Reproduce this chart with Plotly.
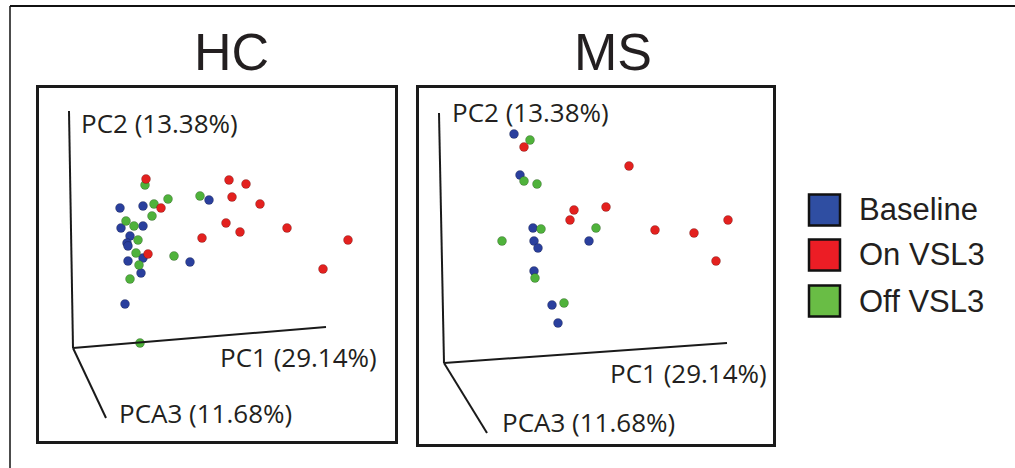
import plotly.graph_objects as go

W, H = 1015, 468

groups = ["Baseline", "On VSL3", "Off VSL3"]
colors = {"Baseline": "#2a3f9d", "On VSL3": "#e3211f", "Off VSL3": "#4fb23b"}
legend_colors = {"Baseline": "#2f4ea2", "On VSL3": "#ec1d25", "Off VSL3": "#69bd45"}

# projected PCoA coordinates (screen-projected units) - HC panel
hc_baseline_x = [4.7, 7.0, 13.6, 4.8, 7.0, 5.7, 5.4, 5.5, 7.0, 11.7, 6.8, 5.2, 5.5]
hc_baseline_y = [14.0, 14.2, 14.8, 12.0, 12.2, 11.2, 10.5, 8.7, 9.0, 8.6, 7.5, 4.4, 10.2]
hc_on_x = [7.3, 15.6, 17.3, 15.9, 18.7, 8.8, 15.3, 16.7, 21.4, 12.9, 27.5, 7.5, 25.0]
hc_on_y = [16.9, 16.8, 16.4, 15.1, 14.4, 14.0, 12.5, 11.6, 12.0, 11.0, 10.8, 9.4, 7.9]
hc_off_x = [7.2, 8.1, 9.5, 12.7, 7.9, 5.3, 6.1, 6.5, 6.3, 10.1, 6.6, 5.7, 6.7]
hc_off_y = [16.3, 14.4, 14.9, 15.2, 13.2, 12.7, 12.2, 10.8, 9.5, 9.2, 8.3, 6.9, 0.5]

# MS panel
ms_baseline_x = [7.0, 7.6, 8.9, 9.0, 9.4, 14.5, 9.0, 10.8, 11.4]
ms_baseline_y = [22.9, 18.8, 13.5, 12.2, 11.5, 12.2, 9.2, 5.8, 4.0]
ms_on_x = [8.0, 18.5, 16.2, 13.0, 12.6, 28.4, 21.1, 25.0, 27.2]
ms_on_y = [21.6, 19.7, 15.6, 15.3, 14.3, 14.3, 13.3, 13.0, 10.2]
ms_off_x = [8.6, 8.0, 9.3, 9.7, 15.2, 5.8, 9.1, 12.0]
ms_off_y = [22.3, 18.2, 17.9, 13.4, 13.5, 12.2, 8.5, 6.0]

panel_titles = ["HC", "MS"]
axis_labels = ["PC2 (13.38%)", "PC1 (29.14%)", "PCA3 (11.68%)"]

fig = go.Figure()

panels = [
    ("x", "y", {"Baseline": (hc_baseline_x, hc_baseline_y),
                "On VSL3": (hc_on_x, hc_on_y),
                "Off VSL3": (hc_off_x, hc_off_y)}),
    ("x2", "y2", {"Baseline": (ms_baseline_x, ms_baseline_y),
                  "On VSL3": (ms_on_x, ms_on_y),
                  "Off VSL3": (ms_off_x, ms_off_y)}),
]

for xa, ya, data in panels:
    for g in ["Baseline", "Off VSL3", "On VSL3"]:
        xs, ys = data[g]
        fig.add_trace(go.Scatter(
            x=xs, y=ys, mode="markers", xaxis=xa, yaxis=ya, name=g,
            showlegend=False,
            marker=dict(size=9, color=colors[g],
                        line=dict(width=0.8, color="rgba(0,0,0,0.25)")),
        ))

def px_x(p):
    return p / W

def px_y(p):
    return 1 - p / H

axis_common = dict(showgrid=False, zeroline=False, showticklabels=False, ticks="",
                   showline=True, mirror=True, linecolor="#1a1a1a", linewidth=2.5,
                   fixedrange=True)

fig.update_layout(
    width=W, height=H, margin=dict(l=0, r=0, t=0, b=0),
    paper_bgcolor="white", plot_bgcolor="white",
    xaxis=dict(domain=[px_x(39), px_x(395)], range=[-3.4, 32.2], **axis_common),
    yaxis=dict(domain=[px_y(441), px_y(88)], range=[-9.3, 26.0], **axis_common),
    xaxis2=dict(domain=[px_x(419), px_x(773)], range=[-2.5, 32.9], anchor="y2", **axis_common),
    yaxis2=dict(domain=[px_y(444), px_y(88)], range=[-8.1, 27.5], anchor="x2", **axis_common),
    showlegend=False,
)

shapes = []
annotations = []

# 3D axis triads per panel: (PC2 top, PC1 end, PCA3 end) in panel units, origin at (0,0)
triads = [
    ("x", "y", (-0.4, 23.7), (25.3, 2.1), (3.3, -7.0),
     [(0.6, 22.5), (14.5, -0.9), (4.4, -6.5)]),
    ("x2", "y2", (-0.5, 25.0), (28.3, 2.0), (4.3, -7.0),
     [(0.6, 25.1), (16.4, -1.0), (5.6, -5.9)]),
]
label_font = dict(family="Open Sans, Lato, sans-serif", size=26, color="#231f20")
for xa, ya, top, pc1, pc3, lab_pos in triads:
    for end in (top, pc1, pc3):
        shapes.append(dict(type="line", xref=xa, yref=ya, x0=0, y0=0, x1=end[0], y1=end[1],
                           line=dict(color="#1a1a1a", width=2)))
    for text, (lx, ly) in zip(axis_labels, lab_pos):
        annotations.append(dict(text=text, xref=xa, yref=ya, x=lx, y=ly,
                                xanchor="left", yanchor="middle", showarrow=False,
                                font=label_font))

# panel titles
for title, cx in zip(panel_titles, [231, 613]):
    annotations.append(dict(text=title, xref="paper", yref="paper", x=px_x(cx), y=px_y(52),
                            xanchor="center", yanchor="middle", showarrow=False,
                            font=dict(family="Liberation Sans, Arial, sans-serif", size=52,
                                      color="#231f20")))

# legend (custom squares)
leg_rows = [210, 255, 301]
for g, cy in zip(groups, leg_rows):
    shapes.append(dict(type="rect", xref="paper", yref="paper",
                       x0=px_x(809), x1=px_x(840), y0=px_y(cy + 15.5), y1=px_y(cy - 15.5),
                       fillcolor=legend_colors[g], line=dict(color="#111111", width=2.5)))
    annotations.append(dict(text=g, xref="paper", yref="paper", x=px_x(857), y=px_y(cy),
                            xanchor="left", yanchor="middle", showarrow=False,
                            font=dict(family="Liberation Sans, Arial, sans-serif", size=31,
                                      color="#231f20")))

# outer frame (top and left edges)
shapes.append(dict(type="line", xref="paper", yref="paper", x0=px_x(10), x1=1.0,
                   y0=px_y(6), y1=px_y(6), line=dict(color="#111111", width=1.8)))
shapes.append(dict(type="line", xref="paper", yref="paper", x0=px_x(10), x1=px_x(10),
                   y0=px_y(6), y1=0.0, line=dict(color="#111111", width=1.5)))

fig.update_layout(shapes=shapes, annotations=annotations)
fig.write_html("out.html", config={"displayModeBar": False},
               post_script="document.body.style.margin='0px';document.body.style.overflow='hidden';")
